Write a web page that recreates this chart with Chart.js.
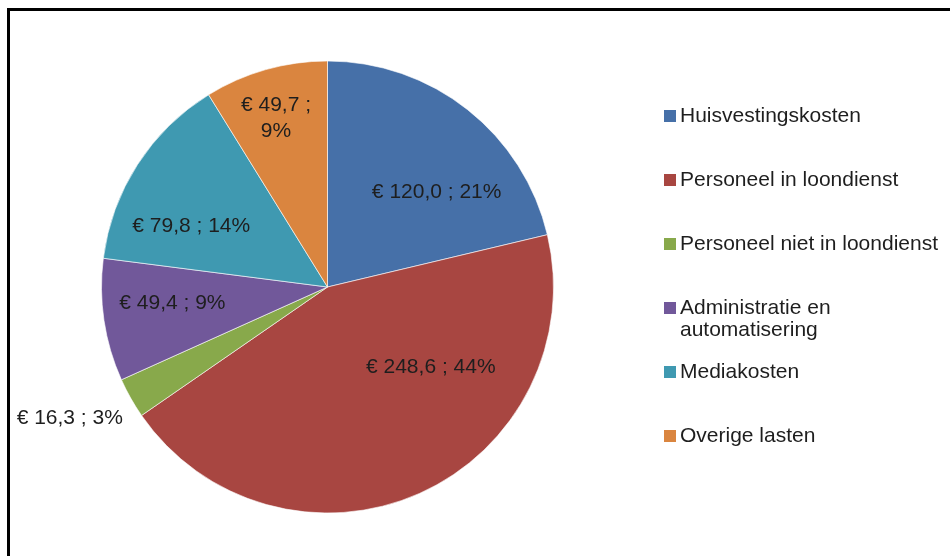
<!DOCTYPE html>
<html lang="nl">
<head>
  <meta charset="UTF-8">
  <title>Kostenverdeling</title>
  <script src="https://cdn.jsdelivr.net/npm/chart.js"></script>
  <style>
    html, body { margin: 0; padding: 0; background: #fff; }
    #wrap { position: relative; width: 950px; height: 556px; }
    #frame { position: absolute; left: 7px; top: 8px; right: 0; bottom: 0;
             border-top: 3px solid #000; border-left: 3px solid #000; pointer-events: none; }
  </style>
</head>
<body>

<div id="wrap">
  <canvas id="chart" width="950" height="556"></canvas>
  <div id="frame"></div>
</div>

<script>
const categories = ['Huisvestingskosten', 'Personeel in loondienst', 'Personeel niet in loondienst',
                    'Administratie en automatisering', 'Mediakosten', 'Overige lasten'];
const amounts = [120.0, 248.6, 16.3, 49.4, 79.8, 49.7];
const percents = [21, 44, 3, 9, 14, 9];

const colors = ['#4670a8', '#a84641', '#88a94b', '#71589a', '#3f99b1', '#da853f'];

// label placement: angle (deg, clockwise from top) and distance as fraction of radius
const labelPlace = [
  { a: 49, r: 0.64 },
  { a: 128, r: 0.58 },
  { a: 243, r: 1.28 },
  { a: 264, r: 0.69 },
  { a: 294, r: 0.66 },
  { a: 343, r: 0.78, wrap: true }
];
const legendLines = [['Huisvestingskosten'], ['Personeel in loondienst'], ['Personeel niet in loondienst'],
                     ['Administratie en', 'automatisering'], ['Mediakosten'], ['Overige lasten']];

const FONT = '21px "Liberation Sans", Arial, sans-serif';

function fmt(v) { return '€ ' + v.toFixed(1).replace('.', ','); }

const sliceLabels = {
  id: 'sliceLabels',
  afterDatasetsDraw(chart) {
    const ctx = chart.ctx;
    const meta = chart.getDatasetMeta(0);
    ctx.save();
    ctx.font = FONT;
    ctx.fillStyle = '#1e1e1e';
    ctx.textAlign = 'center';
    ctx.textBaseline = 'middle';
    meta.data.forEach((arc, i) => {
      const p = labelPlace[i];
      const ang = p.a * Math.PI / 180;
      const cx = arc.x + Math.sin(ang) * arc.outerRadius * p.r;
      const cy = arc.y - Math.cos(ang) * arc.outerRadius * p.r;
      const v = chart.data.datasets[0].data[i];
      if (p.wrap) {
        ctx.fillText(fmt(v) + ' ;', cx, cy - 13);
        ctx.fillText(percents[i] + '%', cx, cy + 13);
      } else {
        ctx.fillText(fmt(v) + ' ; ' + percents[i] + '%', cx, cy);
      }
    });
    ctx.restore();
  }
};

const sideLegend = {
  id: 'sideLegend',
  afterDraw(chart) {
    const ctx = chart.ctx;
    ctx.save();
    ctx.font = FONT;
    ctx.textBaseline = 'middle';
    ctx.textAlign = 'left';
    const x0 = 664, y0 = 116, step = 64, lh = 22;
    legendLines.forEach((lines, i) => {
      const y = y0 + i * step;
      ctx.fillStyle = colors[i];
      ctx.fillRect(x0, y - 6, 12, 12);
      ctx.fillStyle = '#1e1e1e';
      lines.forEach((t, j) => ctx.fillText(t, x0 + 16, y + j * lh));
    });
    ctx.restore();
  }
};

new Chart(document.getElementById('chart'), {
  type: 'pie',
  data: {
    labels: categories,
    datasets: [{
      data: amounts,
      backgroundColor: colors,
      borderColor: 'rgba(255,255,255,0.6)',
      borderWidth: 1
    }]
  },
  options: {
    responsive: false,
    animation: false,
    layout: { padding: { left: 101, right: 396, top: 60, bottom: 42 } },
    plugins: {
      legend: { display: false },
      tooltip: { enabled: false }
    }
  },
  plugins: [sliceLabels, sideLegend]
});
</script>

</body>
</html>
